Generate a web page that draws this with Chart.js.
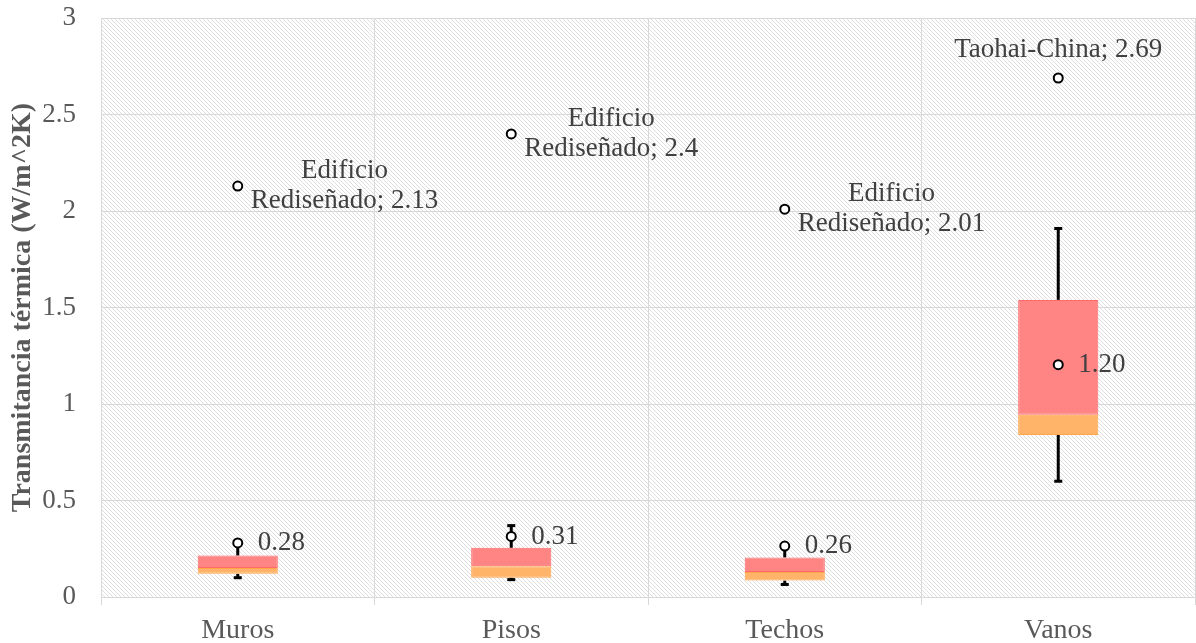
<!DOCTYPE html>
<html>
<head>
<meta charset="utf-8">
<script src="https://cdn.jsdelivr.net/npm/chart.js@4"></script>
<style>
html, body { margin: 0; padding: 0; background: #fff; }
#wrap { width: 1196px; height: 643px; }
</style>
</head>
<body>
<div id="wrap"><canvas id="myChart" width="1196" height="643"></canvas></div>
<script>
let categories = ['Muros', 'Pisos', 'Techos', 'Vanos'];
let whiskerLow = [0.10, 0.09, 0.065, 0.60];
let q1 = [0.12, 0.10, 0.085, 0.84];
let median = [0.15, 0.16, 0.13, 0.945];
let q3 = [0.215, 0.255, 0.205, 1.54];
let whiskerHigh = [0.28, 0.37, 0.27, 1.91];
let means = [0.28, 0.314, 0.264, 1.204];
let outliers = [2.13, 2.4, 2.01, 2.69];
let outlierNames = ['Edificio Rediseñado', 'Edificio Rediseñado', 'Edificio Rediseñado', 'Taohai-China'];
let yTicks = [0, 0.5, 1, 1.5, 2, 2.5, 3];

let serif = "'Liberation Serif', 'Times New Roman', serif";
let labelColor = '#404040';
let axisColor = '#595959';
let gridColor = '#d9d9d9';

// diagonal hatch used as plot background
let makeHatch = () => {
    let c = document.createElement('canvas');
    c.width = 4;
    c.height = 4;
    let g = c.getContext('2d');
    g.fillStyle = '#ffffff';
    g.fillRect(0, 0, 4, 4);
    g.fillStyle = '#dedede';
    for (let i = 0; i < 4; i++) {
        g.fillRect(i, i, 1, 1);
    }
    return g.createPattern(c, 'repeat');
}

let hatchBackground = {
    id: 'hatchBackground',
    beforeDraw(chart) {
        let a = chart.chartArea;
        let ctx = chart.ctx;
        ctx.save();
        ctx.fillStyle = makeHatch();
        ctx.fillRect(a.left, a.top, a.right - a.left, a.bottom - a.top);
        ctx.restore();
    }
}

let whiskers = {
    id: 'whiskers',
    beforeDatasetsDraw(chart) {
        let ctx = chart.ctx;
        let x = chart.scales.x;
        let y = chart.scales.y;
        ctx.save();
        ctx.strokeStyle = '#000';
        ctx.fillStyle = '#000';
        ctx.lineWidth = 3;
        categories.forEach((c, i) => {
            let px = x.getPixelForValue(i);
            let segs = [[q1[i], whiskerLow[i]], [q3[i], whiskerHigh[i]]];
            segs.forEach(s => {
                let y0 = y.getPixelForValue(s[0]);
                let y1 = y.getPixelForValue(s[1]);
                ctx.beginPath();
                ctx.moveTo(px, y0);
                ctx.lineTo(px, y1);
                ctx.stroke();
                ctx.fillRect(px - 4, y1 - 1.5, 8, 3);
            });
        });
        ctx.restore();
    }
}

let dataLabels = {
    id: 'dataLabels',
    afterDatasetsDraw(chart) {
        let ctx = chart.ctx;
        let x = chart.scales.x;
        let y = chart.scales.y;
        ctx.save();
        ctx.font = '27px ' + serif;
        ctx.fillStyle = labelColor;
        ctx.textBaseline = 'middle';
        categories.forEach((c, i) => {
            let px = x.getPixelForValue(i);
            let py = y.getPixelForValue(means[i]);
            ctx.textAlign = 'left';
            ctx.fillText(means[i].toFixed(2), px + 20, py);

            let oy = y.getPixelForValue(outliers[i]);
            let name = outlierNames[i];
            let text = name + '; ' + outliers[i];
            if (name.indexOf(' ') > 0) {
                let cut = name.indexOf(' ');
                let lines = [name.slice(0, cut), name.slice(cut + 1) + '; ' + outliers[i]];
                let w = Math.max(...lines.map(l => ctx.measureText(l).width));
                let cx = px + 13 + w / 2;
                ctx.textAlign = 'center';
                ctx.fillText(lines[0], cx, oy - 15);
                ctx.fillText(lines[1], cx, oy + 15);
            } else {
                ctx.textAlign = 'center';
                ctx.fillText(text, px, oy - 28);
            }
        });
        ctx.restore();
    }
}

let ctx = document.getElementById('myChart').getContext('2d');

let myChart = new Chart(ctx, {
    type: 'bar',
    data: {
        labels: categories,
        datasets: [
            {
                label: 'Q1-Mediana',
                data: categories.map((c, i) => [q1[i], median[i]]),
                backgroundColor: '#ffb469',
                borderColor: '#ffa64d',
                borderWidth: 1,
                borderSkipped: false,
                grouped: false,
                categoryPercentage: 1,
                barPercentage: 0.293,
                order: 3
            },
            {
                label: 'Mediana-Q3',
                data: categories.map((c, i) => [median[i], q3[i]]),
                backgroundColor: '#ff8484',
                borderColor: '#ff6b6b',
                borderWidth: 1,
                borderSkipped: false,
                grouped: false,
                categoryPercentage: 1,
                barPercentage: 0.293,
                order: 2
            },
            {
                type: 'line',
                label: 'Promedio',
                data: means,
                showLine: false,
                pointRadius: 4.5,
                pointBackgroundColor: '#fff',
                pointBorderColor: '#000',
                pointBorderWidth: 2,
                order: 1
            },
            {
                type: 'line',
                label: 'Atípicos',
                data: outliers,
                showLine: false,
                pointRadius: 4.5,
                pointBackgroundColor: '#fff',
                pointBorderColor: '#000',
                pointBorderWidth: 2,
                order: 0
            }
        ]
    },
    options: {
        responsive: false,
        animation: false,
        devicePixelRatio: 1,
        layout: {
            autoPadding: false,
            padding: { top: 18, right: 1, left: 0, bottom: 0 }
        },
        plugins: {
            legend: { display: false },
            tooltip: { enabled: false }
        },
        scales: {
            x: {
                offset: true,
                grid: {
                    offset: true,
                    color: gridColor,
                    lineWidth: 1,
                    drawTicks: true,
                    tickLength: 8
                },
                border: { color: gridColor },
                ticks: {
                    color: axisColor,
                    font: { family: serif, size: 28 },
                    padding: 9
                },
                afterFit: (s) => { s.height = 46; }
            },
            y: {
                min: 0,
                max: 3,
                afterBuildTicks: (s) => { s.ticks = yTicks.map(v => ({ value: v })); },
                grid: {
                    color: gridColor,
                    drawTicks: true,
                    tickLength: 23,
                    tickColor: 'rgba(0,0,0,0)'
                },
                border: { color: gridColor },
                ticks: {
                    color: axisColor,
                    font: { family: serif, size: 27 },
                    padding: 2,
                    callback: (v) => String(v)
                },
                title: {
                    display: true,
                    text: 'Transmitancia térmica (W/m^2K)',
                    color: axisColor,
                    font: { family: serif, size: 28, weight: 'bold' },
                    padding: { top: 6, bottom: 0 }
                },
                afterFit: (s) => { s.width = 101; }
            }
        }
    },
    plugins: [hatchBackground, whiskers, dataLabels]
})
</script>
</body>
</html>
